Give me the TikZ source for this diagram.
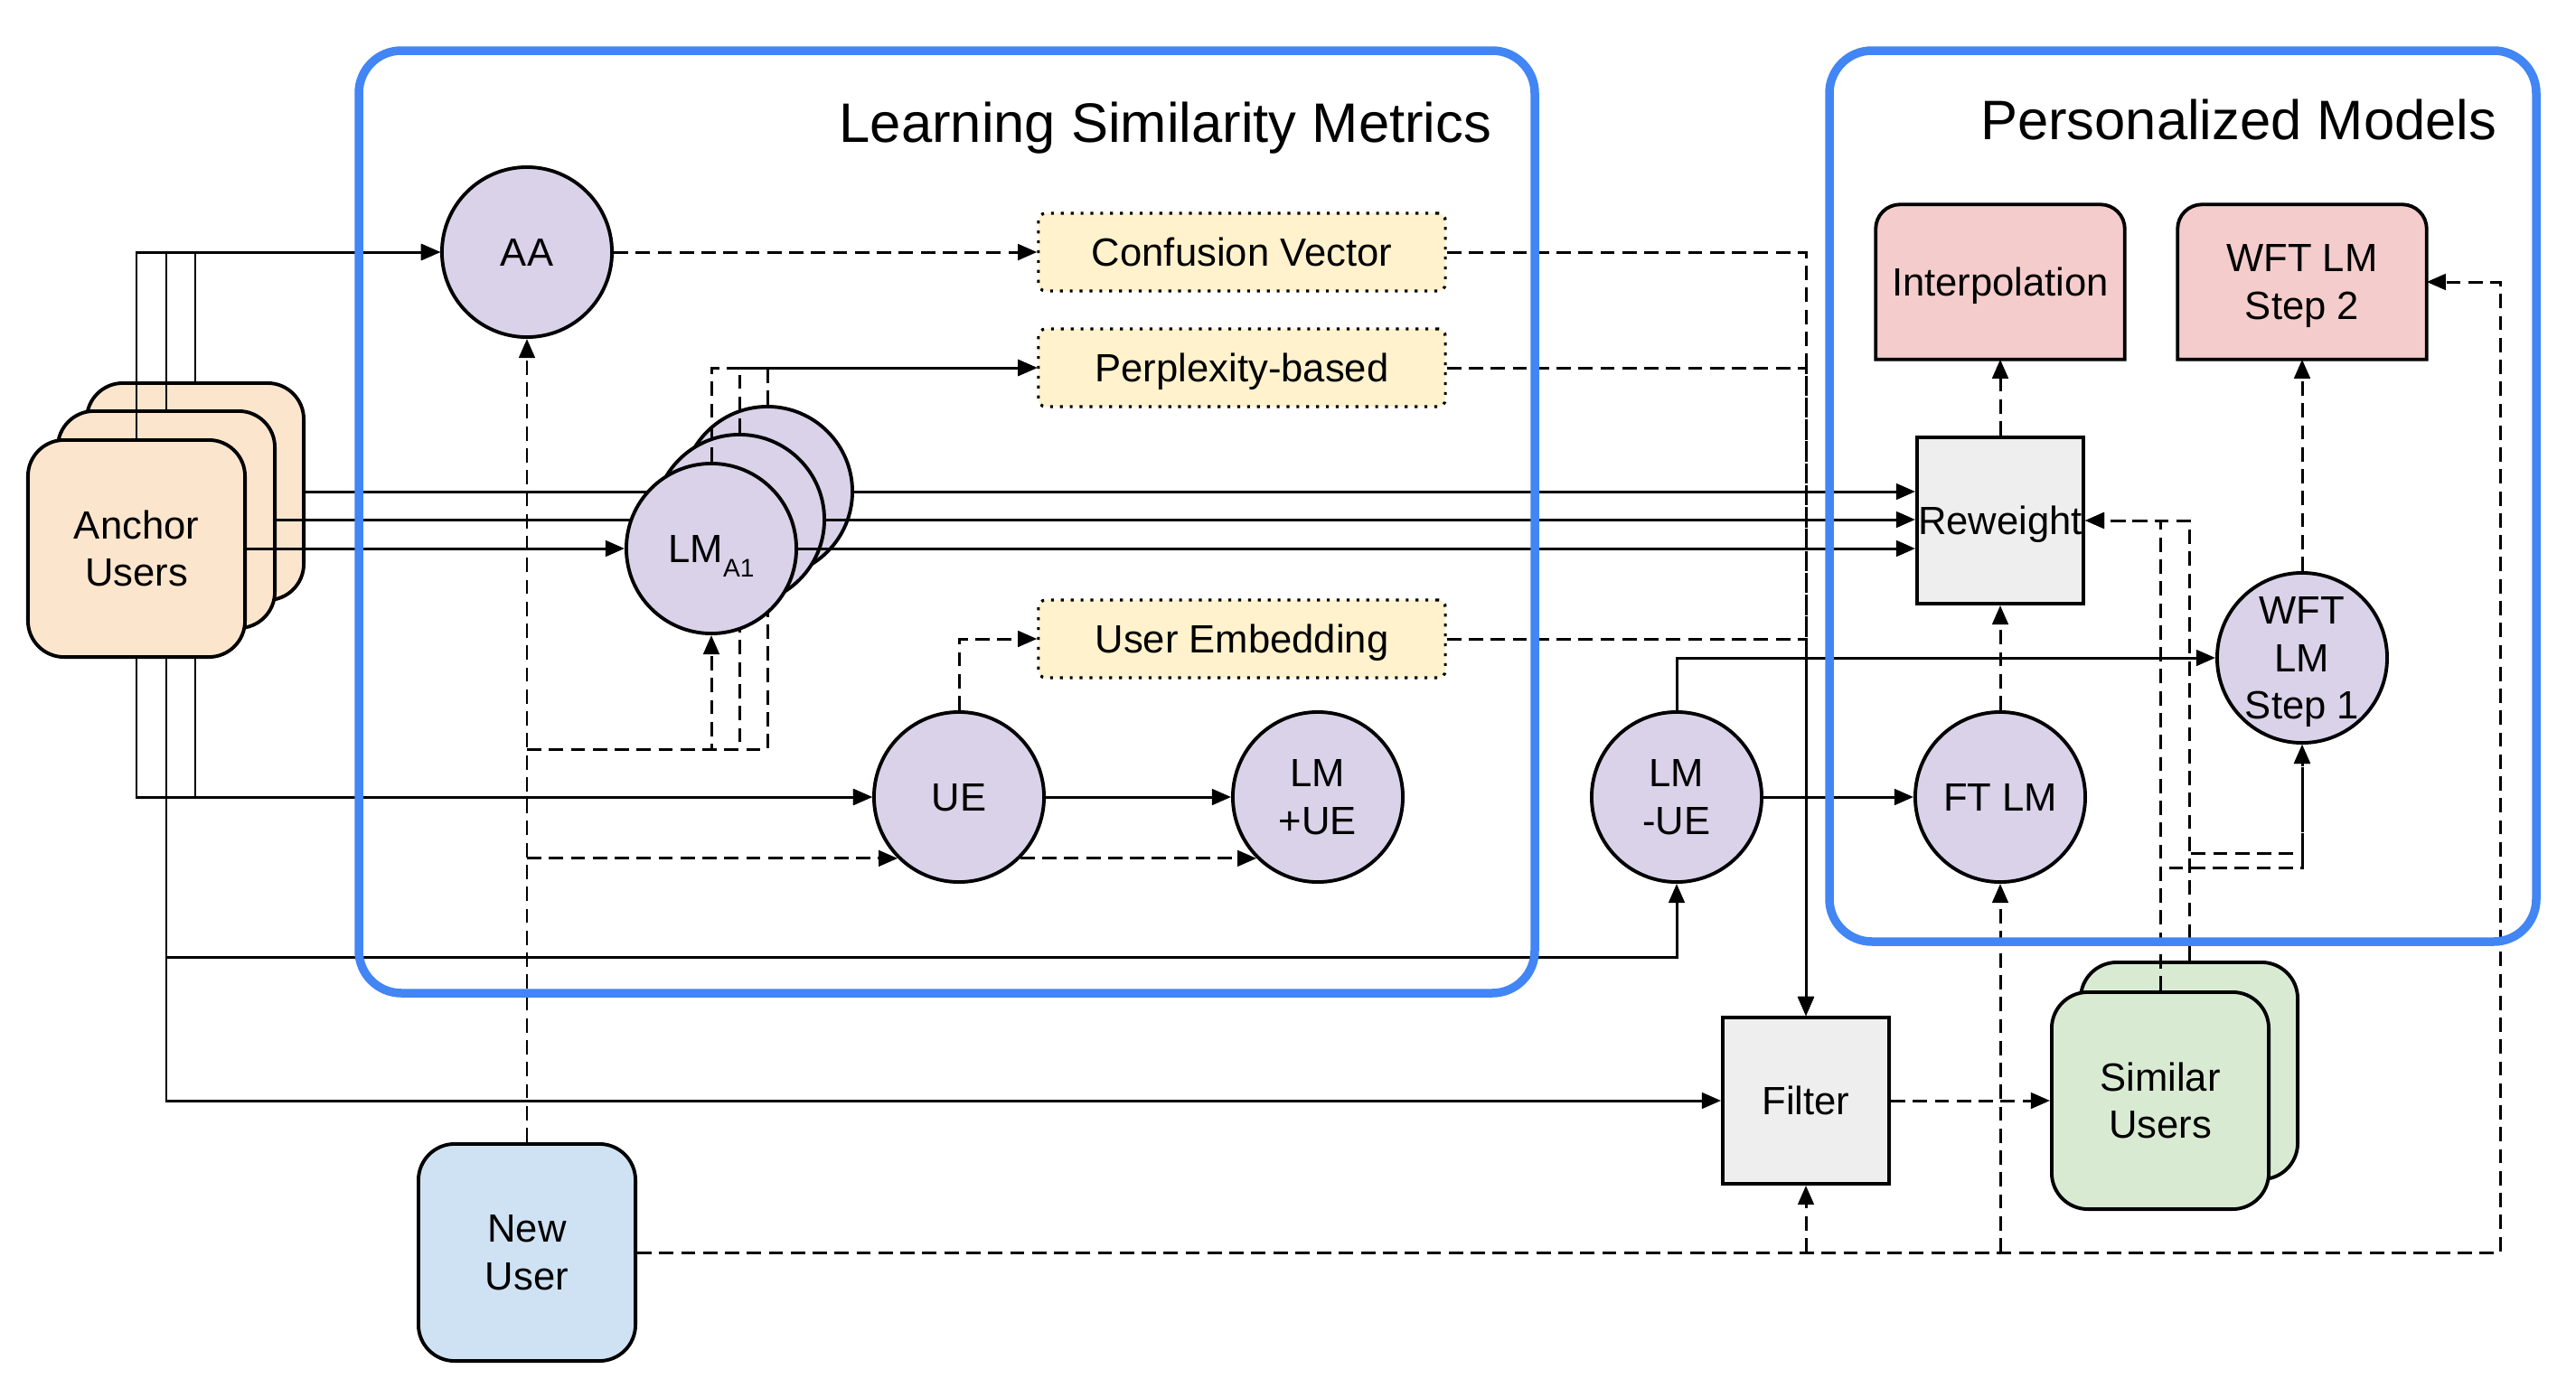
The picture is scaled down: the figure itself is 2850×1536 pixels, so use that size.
\documentclass[tikz,border=0pt]{standalone}
\usepackage{fontspec}
\setmainfont{Liberation Sans}
\usepackage{xcolor}
\usepackage{tikz}
\usetikzlibrary{arrows.meta, positioning}
\definecolor{frameblue}{RGB}{66,133,244}
\definecolor{lmpurple}{RGB}{217,210,233}
\definecolor{anchororange}{RGB}{252,229,205}
\definecolor{newblue}{RGB}{207,226,243}
\definecolor{simgreen}{RGB}{217,234,211}
\definecolor{modelpink}{RGB}{244,204,204}
\definecolor{metricyellow}{RGB}{255,242,204}
\definecolor{opgray}{RGB}{238,238,238}
\pgfdeclarelayer{back}
\pgfdeclarelayer{lines}
\pgfsetlayers{back,lines,main}
\newcommand{\boxfont}{\fontsize{12.4}{15}\selectfont}
\newcommand{\titlefont}{\fontsize{17.5}{21}\selectfont}

\begin{document}
\begin{tikzpicture}[x=0.01cm, y=-0.01cm, >={Triangle[length=6pt,width=5pt]},
lmnode/.style={circle, draw, line width=1.1pt, fill=lmpurple, minimum size=1.88cm, inner sep=0pt, text depth=0pt, align=center, font=\boxfont},
userbox/.style={rectangle, draw, line width=1.1pt, rounded corners=0.4cm, minimum width=2.4cm, minimum height=2.4cm, align=center, font=\boxfont},
metric/.style={draw, line width=0.9pt, dash pattern=on 0.9pt off 2.2pt, fill=metricyellow, rounded corners=0.08cm, minimum width=4.5cm, minimum height=0.86cm, text depth=0pt, font=\boxfont},
opbox/.style={draw, line width=1.1pt, fill=opgray, minimum size=1.84cm, inner sep=0pt, text depth=0pt, font=\boxfont},
model/.style={minimum width=2.74cm, minimum height=1.7cm, inner sep=0pt, text depth=0pt, align=center, font=\boxfont},
conn/.style={->, line width=0.85pt},
dconn/.style={conn, dash pattern=on 4.5pt off 2.4pt},
frame/.style={draw=frameblue, line width=2.7pt, rounded corners=0.47cm}]
\useasboundingbox (0,0) rectangle (2850,1536);
\begin{pgfonlayer}{back}
\node[userbox, fill=anchororange] (au3) at (216,544) {};
\node[userbox, fill=anchororange] (au2) at (184,575) {};
\node[lmnode] (lm3) at (849,544) {};
\node[lmnode] (lm2) at (818,575) {};
\node[userbox, fill=simgreen] (su2) at (2422,1185) {};
\end{pgfonlayer}
\node[userbox, fill=anchororange] (au1) at (151,607) {Anchor\\Users};
\node[lmnode] (lm1) at (787,607) {LM\raisebox{-4.6pt}{\fontsize{8}{8}\selectfont A1}};
\node[userbox, fill=newblue] (nu) at (583,1386) {New\\User};
\node[lmnode] (aa) at (583,279) {AA};
\node[metric] (cv) at (1374,279) {Confusion Vector};
\node[metric] (pb) at (1374,407) {Perplexity-based};
\node[metric] (emb) at (1374,707) {User Embedding};
\node[lmnode] (ue) at (1061,882) {UE};
\node[lmnode] (lmue) at (1458,882) {LM\\+UE};
\node[lmnode] (lmm) at (1855,882) {LM\\-UE};
\node[opbox] (filt) at (1998,1218) {Filter};
\node[userbox, fill=simgreen] (su1) at (2390,1218) {Similar\\Users};
\node[lmnode] (ft) at (2213,882) {FT LM};
\node[opbox] (rw) at (2213,576) {Reweight};
\node[model] (ip) at (2213,312) {Interpolation};
\node[model] (s2) at (2547,312) {WFT LM\\Step 2};
\node[lmnode] (s1) at (2547,728) {WFT\\LM\\Step 1};
\node[anchor=base east, inner sep=0pt, font=\titlefont] (t1) at (1651,157) {Learning Similarity Metrics};
\node[anchor=base east, inner sep=0pt, font=\titlefont] (t2) at (2763,154) {Personalized Models};
\coordinate (lmj) at (1855,1059);
\coordinate (nj) at (583,829);
\coordinate (nr) at (2766,1386);
\coordinate (sj1) at (2547,960);
\coordinate (sj2) at (2547,944);
\begin{pgfonlayer}{back}
\draw[line width=1.1pt, fill=modelpink] (ip.south west) [rounded corners=0.27cm] -- (ip.north west) -- (ip.north east) [sharp corners] -- (ip.south east) -- cycle;
\draw[line width=1.1pt, fill=modelpink] (s2.south west) [rounded corners=0.27cm] -- (s2.north west) -- (s2.north east) [sharp corners] -- (s2.south east) -- cycle;
\end{pgfonlayer}
\begin{pgfonlayer}{lines}
\draw[conn] (au1.north) |- (aa);
\draw[conn] (au2.north) |- (aa);
\draw[conn] (au3.north) |- (aa);
\draw[conn] (au3) -- (lm3);
\draw[conn] (au2) -- (lm2);
\draw[conn] (au1) -- (lm1);
\draw[conn] (lm3) -- (lm3 -| rw.west);
\draw[conn] (lm2) -- (lm2 -| rw.west);
\draw[conn] (lm1) -- (lm1 -| rw.west);
\draw[conn] (au1.south) |- (ue);
\draw[conn] (au3.south) |- (ue);
\draw[conn] (au2.south) |- (filt);
\draw[conn] (au2.south) |- (lmj) -- (lmm);
\draw[conn] (ue) -- (lmue);
\draw[conn] (lmm) -- (ft);
\draw[conn] (lmm) |- (s1);
\draw[dconn] (aa) -- (cv);
\draw[dconn] (lm1) |- (pb);
\draw[dconn] (lm2) |- (pb);
\draw[dconn] (lm3) |- (pb);
\draw[dconn] (ue) |- (emb);
\draw[dconn] (cv) -| (filt);
\draw[dconn] (pb) -| (filt);
\draw[dconn] (emb) -| (filt);
\draw[dconn] (nu) -- (aa);
\draw[dconn] (nj) -| (lm1);
\draw[dconn] (nj) -| (lm2);
\draw[dconn] (nj) -| (lm3);
\draw[dconn] (nu |- ue.south west) -- (ue.south west);
\draw[dconn] (ue.south east) -- (lmue.south west);
\draw[dconn] (nu) -- (nr) |- (s2);
\draw[dconn] (nu -| filt) -- (filt);
\draw[dconn] (nu -| ft) -- (ft);
\draw[dconn] (filt) -- (su1);
\draw[dconn] (ft) -- (rw);
\draw[dconn] (rw) -- (ip);
\draw[dconn] (s1) -- (s2);
\draw[dconn] (su1.north) |- (rw);
\draw[dconn] (su2.north) |- (rw);
\draw[dconn] (su1.north) |- (sj1) -- (s1);
\draw[dconn] (su2.north) |- (sj2) -- (s1);
\end{pgfonlayer}
\draw[frame] (397,56) rectangle (1698,1099);
\draw[frame] (2024,56) rectangle (2806,1042);
\end{tikzpicture}
\end{document}
